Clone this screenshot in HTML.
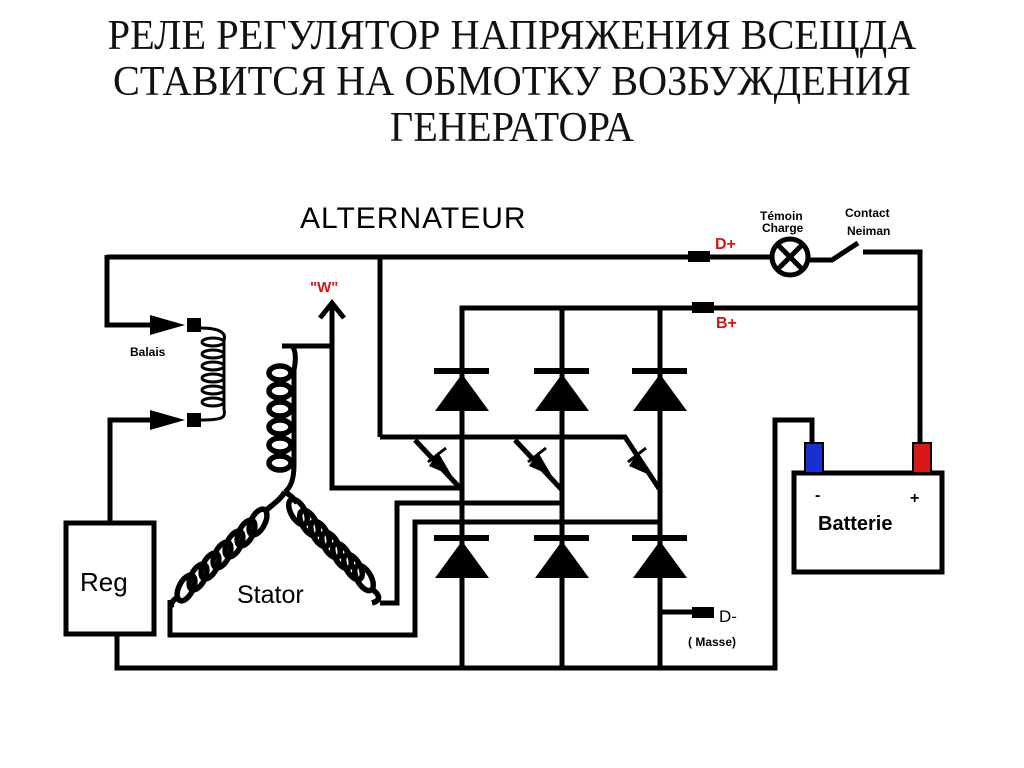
<!DOCTYPE html>
<html><head><meta charset="utf-8"><style>
html,body{margin:0;padding:0;background:#fff;}
body{width:1024px;height:768px;overflow:hidden;position:relative;}
.t{position:absolute;left:0;width:1024px;text-align:center;font-family:"Liberation Serif",serif;font-size:42px;color:#111;line-height:46px;transform:scaleX(0.96);}
</style></head><body>
<div class="t" style="top:13px">РЕЛЕ РЕГУЛЯТОР НАПРЯЖЕНИЯ ВСЕЩДА</div>
<div class="t" style="top:59px">СТАВИТСЯ НА ОБМОТКУ ВОЗБУЖДЕНИЯ</div>
<div class="t" style="top:105px">ГЕНЕРАТОРА</div>
<svg width="1024" height="768" style="position:absolute;left:0;top:0" xmlns="http://www.w3.org/2000/svg">
<g fill="none" stroke="#000" stroke-width="5">
<polyline points="107,257 772,257"/>
<polyline points="107,255 107,325 160,325"/>
<polyline points="110,522 110,420 160,420"/>
<line x1="380" y1="257" x2="380" y2="437"/>
<polyline points="380,437 625,437 660,490"/>
<line x1="415" y1="440" x2="462" y2="490"/>
<line x1="515" y1="440" x2="562" y2="490"/>
<circle cx="790" cy="257" r="18"/>
<line x1="778" y1="245" x2="802" y2="269"/><line x1="802" y1="245" x2="778" y2="269"/>
<polyline points="808,260 832,260 858,243"/>
<polyline points="863,252 920,252 920,445"/>
<polyline points="462,650 462,308 920,308"/>
<line x1="562" y1="308" x2="562" y2="668"/>
<line x1="660" y1="308" x2="660" y2="668"/>
<line x1="462" y1="640" x2="462" y2="668"/>
<polyline points="117,635 117,668 775,668 775,420 812,420 812,445"/>
<line x1="660" y1="612" x2="700" y2="612"/>
<polyline points="282,346 332,346"/>
<polyline points="332,305 332,488 462,488"/>
<polyline points="320,318 332,303 344,318"/>
<polyline points="380,603 397,603 397,503 562,503"/>
<polyline points="170,600 170,635 415,635 415,522 660,522"/>
<rect x="66" y="523" width="88" height="111"/>
<rect x="794" y="473" width="148" height="99"/>
<path d="M292,346 C296,350 296,360 294,370 L294,465 C294,480 290,488 285,492"/>
</g>
<g fill="none" stroke="#000" stroke-width="3">
<path d="M200,328 C222,328 226,334 224,340"/>
<line x1="224" y1="340" x2="224" y2="410"/>
<path d="M224,410 C226,418 222,420 200,420"/>
<ellipse cx="213" cy="342" rx="11" ry="4"/><ellipse cx="213" cy="354" rx="11" ry="4"/><ellipse cx="213" cy="366" rx="11" ry="4"/><ellipse cx="213" cy="378" rx="11" ry="4"/><ellipse cx="213" cy="390" rx="11" ry="4"/><ellipse cx="213" cy="402" rx="11" ry="4"/>
</g>
<g fill="none" stroke="#000" stroke-width="5.5">
<ellipse cx="280" cy="373" rx="11" ry="7"/><ellipse cx="280" cy="391" rx="11" ry="7"/><ellipse cx="280" cy="409" rx="11" ry="7"/><ellipse cx="280" cy="427" rx="11" ry="7"/><ellipse cx="280" cy="445" rx="11" ry="7"/><ellipse cx="280" cy="463" rx="11" ry="7"/>
<g transform="translate(258,522) rotate(-63)"><ellipse cx="0" cy="0" rx="14" ry="7"/></g>
<g transform="translate(246,533) rotate(-63)"><ellipse cx="0" cy="0" rx="14" ry="7"/></g>
<g transform="translate(234,544) rotate(-63)"><ellipse cx="0" cy="0" rx="14" ry="7"/></g>
<g transform="translate(222,555) rotate(-63)"><ellipse cx="0" cy="0" rx="14" ry="7"/></g>
<g transform="translate(210,566) rotate(-63)"><ellipse cx="0" cy="0" rx="14" ry="7"/></g>
<g transform="translate(198,577) rotate(-63)"><ellipse cx="0" cy="0" rx="14" ry="7"/></g>
<g transform="translate(186,588) rotate(-63)"><ellipse cx="0" cy="0" rx="14" ry="7"/></g>
<g transform="translate(298,512) rotate(60)"><ellipse cx="0" cy="0" rx="14" ry="7"/></g>
<g transform="translate(309,523) rotate(60)"><ellipse cx="0" cy="0" rx="14" ry="7"/></g>
<g transform="translate(320,534) rotate(60)"><ellipse cx="0" cy="0" rx="14" ry="7"/></g>
<g transform="translate(331,545) rotate(60)"><ellipse cx="0" cy="0" rx="14" ry="7"/></g>
<g transform="translate(342,556) rotate(60)"><ellipse cx="0" cy="0" rx="14" ry="7"/></g>
<g transform="translate(353,567) rotate(60)"><ellipse cx="0" cy="0" rx="14" ry="7"/></g>
<g transform="translate(364,578) rotate(60)"><ellipse cx="0" cy="0" rx="14" ry="7"/></g>
<path d="M285,492 C280,500 272,505 264,512"/>
<path d="M285,492 C292,496 295,500 297,503"/>
<path d="M180,596 C172,600 170,604 172,608"/>
<path d="M370,588 C380,594 382,600 372,603"/>
</g>
<g fill="#000">
<polygon points="150,315 185,325 150,335"/><rect x="187" y="318" width="14" height="14"/>
<polygon points="150,410 185,420 150,430"/><rect x="187" y="413" width="14" height="14"/>
<rect x="688" y="251" width="22" height="11"/>
<rect x="692" y="302" width="22" height="11"/>
<rect x="692" y="607" width="22" height="11"/>
<rect x="434" y="368" width="55" height="6"/><polygon points="462,374 435,411 489,411"/>
<rect x="534" y="368" width="55" height="6"/><polygon points="562,374 535,411 589,411"/>
<rect x="632" y="368" width="55" height="6"/><polygon points="660,374 633,411 687,411"/>
<rect x="434" y="535" width="55" height="6"/><polygon points="462,541 435,578 489,578"/>
<rect x="534" y="535" width="55" height="6"/><polygon points="562,541 535,578 589,578"/>
<rect x="632" y="535" width="55" height="6"/><polygon points="660,541 633,578 687,578"/>
<polygon points="438,452 452,476 429,466"/><line x1="428" y1="462" x2="446" y2="448" stroke="#000" stroke-width="3"/>
<polygon points="538,452 552,476 529,466"/><line x1="528" y1="462" x2="546" y2="448" stroke="#000" stroke-width="3"/>
<polygon points="638,452 652,476 629,466"/><line x1="628" y1="462" x2="646" y2="448" stroke="#000" stroke-width="3"/>
</g>
<rect x="805" y="443" width="18" height="30" fill="#1a2fd0" stroke="#000" stroke-width="2"/>
<rect x="913" y="443" width="18" height="30" fill="#d81818" stroke="#000" stroke-width="2"/>
<g font-family="Liberation Sans, sans-serif">
<text x="300" y="228" font-size="30" letter-spacing="1">ALTERNATEUR</text>
<text x="130" y="356" font-size="12" font-weight="bold">Balais</text>
<text x="310" y="292" font-size="15" font-weight="bold" fill="#d01818">"W"</text>
<text x="80" y="591" font-size="26">Reg</text>
<text x="237" y="603" font-size="25">Stator</text>
<text x="715" y="249" font-size="16" font-weight="bold" fill="#d01818">D+</text>
<text x="716" y="328" font-size="16" font-weight="bold" fill="#d01818">B+</text>
<text x="719" y="622" font-size="17">D-</text>
<text x="688" y="646" font-size="12" font-weight="bold">( Masse)</text>
<text x="760" y="220" font-size="12" font-weight="bold">Témoin</text>
<text x="762" y="232" font-size="12" font-weight="bold">Charge</text>
<text x="845" y="217" font-size="12" font-weight="bold">Contact</text>
<text x="847" y="235" font-size="12" font-weight="bold">Neiman</text>
<text x="815" y="500" font-size="16" font-weight="bold">-</text>
<text x="910" y="503" font-size="16" font-weight="bold">+</text>
<text x="818" y="530" font-size="20" font-weight="bold">Batterie</text>
</g>
</svg>
</body></html>
